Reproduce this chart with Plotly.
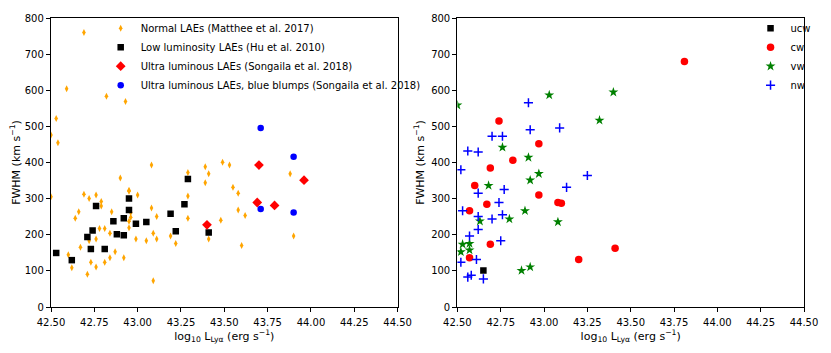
import plotly.graph_objects as go
from plotly.subplots import make_subplots

# Left panel: Lya luminosity vs FWHM
matthee_L = [42.69, 42.59, 42.53, 42.50, 42.54, 42.82, 42.93, 43.08, 42.90, 42.95,
             43.29, 43.39, 43.41, 43.39, 43.49, 43.53, 42.50, 42.69, 42.72, 42.76,
             42.79, 42.79, 42.66, 42.64, 42.85, 42.95, 43.00, 42.96, 42.96, 42.95,
             42.95, 43.08, 43.11, 43.09, 43.11, 42.99, 43.05, 43.29, 43.29, 43.19,
             43.22, 43.41, 43.48, 42.78, 42.81, 42.84, 42.87, 42.76, 42.72, 42.67,
             42.60, 42.62, 42.73, 42.76, 42.81, 42.84, 42.92, 42.71, 43.09, 43.88,
             43.55, 43.58, 43.58, 43.62, 43.90, 43.60]
matthee_F = [762, 606, 523, 477, 456, 585, 570, 394, 358, 324,
             373, 389, 370, 345, 402, 394, 306, 313, 301, 311,
             293, 280, 264, 246, 264, 321, 311, 262, 249, 238,
             220, 275, 251, 205, 189, 189, 184, 308, 246, 197,
             176, 189, 241, 218, 218, 205, 153, 189, 184, 166,
             145, 109, 124, 111, 124, 137, 137, 91, 73, 370,
             332, 316, 269, 254, 197, 171]

hu_L = [42.53, 42.62, 42.71, 42.74, 42.73, 42.81, 42.76, 42.86, 42.88, 42.92,
        42.92, 42.95, 42.95, 42.99, 43.05, 43.19, 43.22, 43.27, 43.29, 43.41]
hu_F = [150, 130, 194, 212, 161, 161, 280, 238, 202, 199,
        246, 301, 269, 231, 236, 259, 210, 285, 355, 207]

songaila_L = [43.40, 43.70, 43.96, 43.69, 43.79]
songaila_F = [228, 394, 352, 290, 282]

blump_L = [43.71, 43.90, 43.71, 43.90]
blump_F = [497, 417, 272, 262]

# Right panel: classes
ucw_L = [42.65]
ucw_F = [101]

cw_L = [43.81, 42.74, 42.97, 42.82, 42.69, 42.60, 42.97, 42.67, 43.08, 43.10,
        42.57, 42.69, 42.57, 43.20, 43.41]
cw_F = [681, 516, 453, 407, 386, 337, 311, 285, 290, 288,
        267, 174, 137, 132, 163]

vw_L = [42.50, 43.03, 43.40, 43.32, 42.76, 42.91, 42.97, 42.92, 42.68, 42.89,
        42.63, 42.80, 43.08, 42.53, 42.57, 42.57, 42.52, 42.87, 42.92]
vw_F = [560, 588, 596, 518, 443, 415, 370, 352, 337, 267,
        238, 244, 236, 174, 176, 158, 153, 101, 111]

nw_L = [42.91, 42.92, 43.09, 42.70, 42.76, 42.56, 42.62, 42.52, 43.25, 43.13,
        42.77, 42.62, 42.74, 42.53, 42.76, 42.62, 42.70, 42.62, 42.57, 42.75,
        42.61, 42.52, 42.56, 42.58, 42.65]
nw_F = [567, 492, 497, 474, 474, 433, 430, 381, 365, 332,
        326, 316, 290, 267, 256, 251, 244, 215, 197, 184,
        132, 124, 83, 88, 78]

fwhm_ticks = [0, 100, 200, 300, 400, 500, 600, 700, 800]

fig = make_subplots(rows=1, cols=2)

# left panel traces
fig.add_trace(go.Scatter(x=matthee_L, y=matthee_F, mode='markers',
                         name='Normal LAEs (Matthee et al. 2017)',
                         marker=dict(symbol='diamond-tall', size=5, color='#FFA500'),
                         legend='legend'), row=1, col=1)
fig.add_trace(go.Scatter(x=hu_L, y=hu_F, mode='markers',
                         name='Low luminosity LAEs (Hu et al. 2010)',
                         marker=dict(symbol='square', size=6.5, color='black'),
                         legend='legend'), row=1, col=1)
fig.add_trace(go.Scatter(x=songaila_L, y=songaila_F, mode='markers',
                         name='Ultra luminous LAEs (Songaila et al. 2018)',
                         marker=dict(symbol='diamond', size=7.5, color='#FF0000'),
                         legend='legend'), row=1, col=1)
fig.add_trace(go.Scatter(x=blump_L, y=blump_F, mode='markers',
                         name='Ultra luminous LAEs, blue blumps (Songaila et al. 2018)',
                         marker=dict(symbol='circle', size=6.5, color='#0000FF'),
                         legend='legend'), row=1, col=1)

# right panel traces
fig.add_trace(go.Scatter(x=ucw_L, y=ucw_F, mode='markers', name='ucw',
                         marker=dict(symbol='square', size=6.5, color='black'),
                         legend='legend2'), row=1, col=2)
fig.add_trace(go.Scatter(x=cw_L, y=cw_F, mode='markers', name='cw',
                         marker=dict(symbol='circle', size=7.5, color='#FF0000'),
                         legend='legend2'), row=1, col=2)
fig.add_trace(go.Scatter(x=vw_L, y=vw_F, mode='markers', name='vw',
                         marker=dict(symbol='star', size=7.5, color='#008000'),
                         legend='legend2'), row=1, col=2)
fig.add_trace(go.Scatter(x=nw_L, y=nw_F, mode='markers', name='nw',
                         marker=dict(symbol='cross-thin-open', size=6.5, color='#0000FF',
                                     line=dict(color='#0000FF', width=1.5)),
                         legend='legend2'), row=1, col=2)

xtitle = 'log<sub>10</sub> L<sub>Lyα</sub> (erg s<sup>−1</sup>)'
ytitle = 'FWHM (km s<sup>−1</sup>)'
axis_style = dict(showline=True, linecolor='black', linewidth=1.3, mirror=True,
                  ticks='outside', ticklen=4, tickwidth=1, tickcolor='black',
                  showgrid=False, zeroline=False, ticklabeloverflow='allow',
                  tickfont=dict(size=10, color='black'))

fig.update_xaxes(range=[42.5, 44.5], dtick=0.25, tick0=42.5, tickformat='.2f',
                 ticklabelstandoff=2,
                 title=dict(text=xtitle, font=dict(size=11, color='black'), standoff=4),
                 **axis_style)
fig.update_yaxes(range=[0, 802], tickmode='array', tickvals=fwhm_ticks,
                 ticktext=[str(v) for v in fwhm_ticks],
                 title=dict(text=ytitle, font=dict(size=11, color='black'), standoff=4),
                 **axis_style)
fig.update_xaxes(domain=[0, 0.4603], row=1, col=1)
fig.update_xaxes(domain=[0.5397, 1], row=1, col=2)

# the page body adds an 8px margin, so the figure is sized to fit inside it
fig.update_layout(
    width=815, height=337,
    margin=dict(l=39, r=7, t=5, b=31),
    paper_bgcolor='white', plot_bgcolor='white',
    font=dict(family='DejaVu Sans', size=10, color='black'),
    legend=dict(x=0.066, y=1.015, xanchor='left', yanchor='top',
                bgcolor='rgba(0,0,0,0)', font=dict(size=10),
                tracegroupgap=0),
    legend2=dict(x=0.929, y=1.015, xanchor='left', yanchor='top',
                 bgcolor='rgba(0,0,0,0)', font=dict(size=10),
                 tracegroupgap=0),
)

fig.write_html("out.html")
